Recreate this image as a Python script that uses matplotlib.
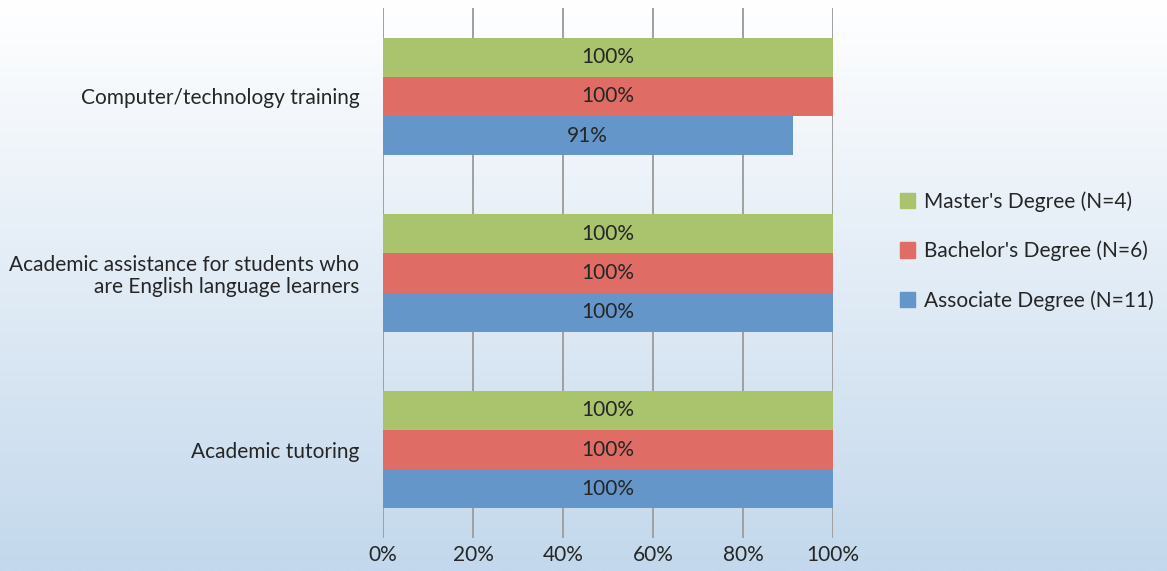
import numpy as np
import matplotlib
matplotlib.use('Agg')
import matplotlib.pyplot as plt
from matplotlib.patches import Patch

# categories bottom -> top
categories = ['Academic tutoring',
              'Academic assistance for students who\nare English language learners',
              'Computer/technology training']
masters = [100, 100, 100]
bachelors = [100, 100, 100]
associate = [100, 100, 91]

series_names = ["Master's Degree (N=4)", "Bachelor's Degree (N=6)", "Associate Degree (N=11)"]
colors = ['#A9C46C', '#E06C66', '#6496C9']

plt.rcParams['font.family'] = ['Lato', 'DejaVu Sans']

fig = plt.figure(figsize=(11.67, 5.71), dpi=100)

# background gradient, white at top to light blue at bottom
bg = fig.add_axes([0, 0, 1, 1], zorder=-10)
top = np.array([1.0, 1.0, 1.0])
bot = np.array([0xc3, 0xd8, 0xec]) / 255
t = np.linspace(0, 1, 256)[:, None]
grad = (top * (1 - t) + bot * t)[:, None, :]
bg.imshow(grad, aspect='auto', extent=[0, 1, 0, 1])
bg.axis('off')

ax = fig.add_axes([383 / 1167, 33 / 571, 450 / 1167, 530 / 571])
ax.patch.set_alpha(0)

y = np.arange(len(categories))
h = 0.222
bars = [
    ax.barh(y + h, masters, height=h, color=colors[0]),
    ax.barh(y, bachelors, height=h, color=colors[1]),
    ax.barh(y - h, associate, height=h, color=colors[2]),
]
for b in bars:
    ax.bar_label(b, labels=[f'{v:.0f}%' for v in b.datavalues], label_type='center',
                 fontsize=15, color='#262626')

ax.set_xlim(0, 100)
ax.set_ylim(-0.5, 2.5)
ax.set_xticks(range(0, 101, 20))
ax.set_xticklabels([f'{v}%' for v in range(0, 101, 20)], fontsize=15, color='#262626')
ax.set_yticks(y)
ax.set_yticklabels(categories, fontsize=15, color='#262626', linespacing=1.15)
ax.tick_params(length=0)
ax.tick_params(axis='y', pad=17)
ax.tick_params(axis='x', pad=5)
for s in ax.spines.values():
    s.set_visible(False)
ax.grid(axis='x', color='#a0a0a0', linewidth=1.4)
ax.set_axisbelow(True)

handles = [Patch(color=c) for c in colors]
fig.legend(handles, series_names, loc='center left', bbox_to_anchor=(881 / 1167, 1 - 251 / 571),
           frameon=False, fontsize=15, labelspacing=1.38, handlelength=0.75, handleheight=0.75,
           handletextpad=0.4, labelcolor='#262626')

fig.savefig('out.png', dpi=100)
